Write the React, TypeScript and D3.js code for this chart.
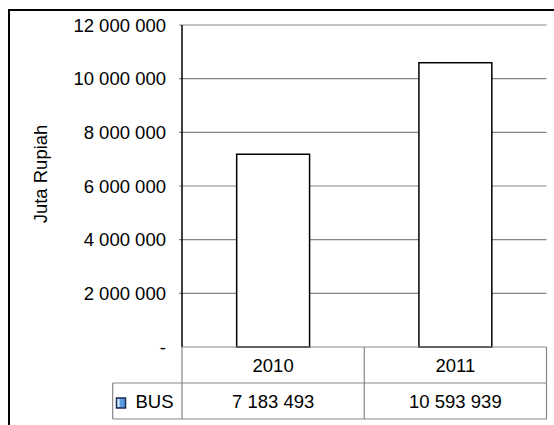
import React from "react";
import * as d3 from "d3";

const categories = ["2010", "2011"];
const busValues = [7183493, 10593939];
const valueLabels = ["7 183 493", "10 593 939"];
const yTicks = [0, 2000000, 4000000, 6000000, 8000000, 10000000, 12000000];
const seriesName = "BUS";
const yTitle = "Juta Rupiah";

const W = 554;
const H = 425;
const plotLeft = 182;
const plotRight = 546.5;
const plotTop = 25;
const plotBottom = 347;
const rowH = 36;
const legendLeft = 112.7;

const fmt = (v: number) =>
  v === 0 ? "-" : d3.format(",")(v).replace(/,/g, " ");

export default function App() {
  const y = d3.scaleLinear().domain([0, 12000000]).range([plotBottom, plotTop]);
  const x = d3
    .scaleBand<string>()
    .domain(categories)
    .range([plotLeft, plotRight])
    .paddingInner(0.6)
    .paddingOuter(0.3);
  const step = x.step();
  const font = "Liberation Sans, Arial, sans-serif";
  const fs = 18.5;
  const gray = "#858585";
  const row1Top = plotBottom;
  const row2Top = plotBottom + rowH;
  const cellLeft = (c: string) => x(c)! - (step - x.bandwidth()) / 2;
  return (
    <div style={{ position: "fixed", left: 0, top: 0, width: W, height: H, overflow: "hidden", background: "#fff" }}>
      <svg width={W} height={H} style={{ display: "block" }} fontFamily={font}>
        <rect x={0} y={0} width={W} height={H} fill="#fff" />
        <path d={`M9,${H + 5} L9,10 L${W + 5},10`} fill="none" stroke="#000" strokeWidth={2} />
        {yTicks.map((t) => (
          <g key={t}>
            {t > 0 && (
              <line x1={plotLeft - 3} x2={plotRight} y1={y(t)} y2={y(t)} stroke={gray} strokeWidth={1.2} />
            )}
            <text x={166} y={y(t)} dy="0.36em" textAnchor="end" fontSize={fs} fill="#000">
              {fmt(t)}
            </text>
          </g>
        ))}
        <text
          transform={`translate(40,174) rotate(-90)`}
          textAnchor="middle"
          dy="0.36em"
          fontSize={fs}
          fill="#000"
        >
          {yTitle}
        </text>
        {categories.map((c, i) => (
          <rect
            key={c}
            x={x(c)!}
            y={y(busValues[i])}
            width={x.bandwidth()}
            height={plotBottom - y(busValues[i])}
            fill="#fff"
            stroke="#000"
            strokeWidth={1.5}
          />
        ))}
        <line x1={plotLeft} x2={plotLeft} y1={plotTop} y2={plotBottom} stroke="#000" strokeWidth={1.5} />
        <g fill="none" stroke={gray} strokeWidth={1.2}>
          <line x1={plotLeft} x2={plotRight} y1={row1Top} y2={row1Top} />
          <line x1={legendLeft} x2={plotRight} y1={row2Top} y2={row2Top} />
          <line x1={legendLeft} x2={plotRight} y1={row2Top + rowH} y2={row2Top + rowH} />
          <line x1={legendLeft} x2={legendLeft} y1={row2Top} y2={row2Top + rowH} />
          {categories.map((c) => (
            <line key={c} x1={cellLeft(c)} x2={cellLeft(c)} y1={row1Top} y2={row2Top + rowH} />
          ))}
          <line x1={plotRight} x2={plotRight} y1={row1Top} y2={row2Top + rowH} />
        </g>
        {categories.map((c, i) => (
          <g key={c}>
            <text x={x(c)! + x.bandwidth() / 2} y={row1Top + rowH / 2} dy="0.36em" textAnchor="middle" fontSize={fs} fill="#000">
              {c}
            </text>
            <text x={x(c)! + x.bandwidth() / 2} y={row2Top + rowH / 2} dy="0.36em" textAnchor="middle" fontSize={fs} fill="#000">
              {valueLabels[i]}
            </text>
          </g>
        ))}
        <rect x={116.5} y={398} width={9} height={10} fill="#5a9be0" stroke="#1b2a55" strokeWidth={1.5} />
        <rect x={117.5} y={399} width={2} height={8} fill="#d8ecff" />
        <text x={135.5} y={row2Top + rowH / 2} dy="0.36em" textAnchor="start" fontSize={fs} fill="#000">
          {seriesName}
        </text>
      </svg>
    </div>
  );
}
